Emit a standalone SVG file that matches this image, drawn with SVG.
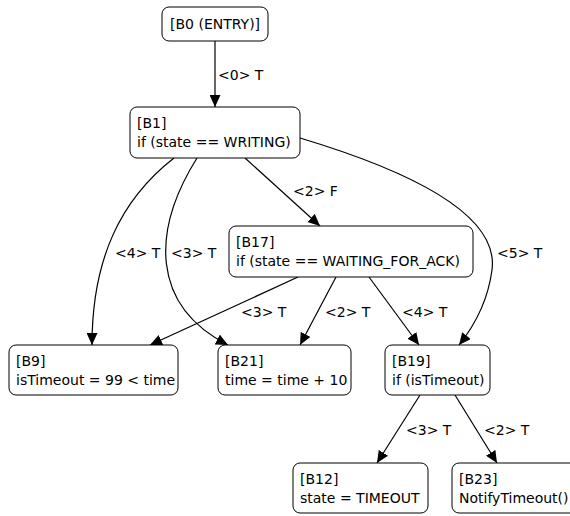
<svg xmlns="http://www.w3.org/2000/svg" width="570" height="516" viewBox="0 0 570 516">
<defs>
<marker id="ah" markerUnits="userSpaceOnUse" markerWidth="13" markerHeight="11" refX="12" refY="5.5" orient="auto">
<path d="M0,0 L12,5.5 L0,11 Z" fill="#000"/>
</marker>
<style>
text{font-family:"DejaVu Sans",Verdana,sans-serif;font-size:14px;fill:#000}
.box{fill:#fff;stroke:#000;stroke-width:1}
.e{fill:none;stroke:#000;stroke-width:1.2;marker-end:url(#ah)}
</style>
</defs>
<rect width="570" height="516" fill="#fff"/>
<g id="connectors">
<path class="e" d="M215,41 L215,107"/>
<text x="218" y="80">&lt;0&gt; T</text>
<path class="e" d="M245,158 L320,226"/>
<text x="293" y="196">&lt;2&gt; F</text>
<path class="e" d="M174,158 C120,200 92,260 92,345"/>
<text x="115" y="258">&lt;4&gt; T</text>
<path class="e" d="M197,158 C152,230 150,305 228,345"/>
<text x="171" y="258">&lt;3&gt; T</text>
<path class="e" d="M300,138 C440,180 498,225 492,270 C488,300 475,325 459,345"/>
<text x="497" y="258">&lt;5&gt; T</text>
<path class="e" d="M298,277 L150,345"/>
<text x="241" y="317">&lt;3&gt; T</text>
<path class="e" d="M336,277 L300,345"/>
<text x="325" y="317">&lt;2&gt; T</text>
<path class="e" d="M369,277 L419,345"/>
<text x="402" y="317">&lt;4&gt; T</text>
<path class="e" d="M420,395 L377,463"/>
<text x="406" y="435">&lt;3&gt; T</text>
<path class="e" d="M455,395 L497,463"/>
<text x="484" y="435">&lt;2&gt; T</text>
</g>
<g id="B0"><rect class="box" x="162" y="7" width="106" height="34" rx="7"/><text x="170" y="29">[B0 (ENTRY)]</text></g>
<g id="B1"><rect class="box" x="130" y="107" width="170" height="51" rx="7"/><text x="137" y="128">[B1]</text><text x="137" y="147">if (state == WRITING)</text></g>
<g id="B17"><rect class="box" x="229" y="226" width="244" height="51" rx="7"/><text x="236" y="247">[B17]</text><text x="236" y="266">if (state == WAITING_FOR_ACK)</text></g>
<g id="B9"><rect class="box" x="9" y="345" width="169" height="50" rx="7"/><text x="16" y="366">[B9]</text><text x="16" y="385">isTimeout = 99 &lt; time</text></g>
<g id="B21"><rect class="box" x="218" y="345" width="133" height="50" rx="7"/><text x="225" y="366">[B21]</text><text x="225" y="385">time = time + 10</text></g>
<g id="B19"><rect class="box" x="385" y="345" width="105" height="50" rx="7"/><text x="392" y="366">[B19]</text><text x="392" y="385">if (isTimeout)</text></g>
<g id="B12"><rect class="box" x="293" y="463" width="135" height="50" rx="7"/><text x="300" y="484">[B12]</text><text x="300" y="503">state = TIMEOUT</text></g>
<g id="B23"><rect class="box" x="452" y="463" width="125" height="50" rx="7"/><text x="459" y="484">[B23]</text><text x="459" y="503">NotifyTimeout()</text></g>
</svg>
